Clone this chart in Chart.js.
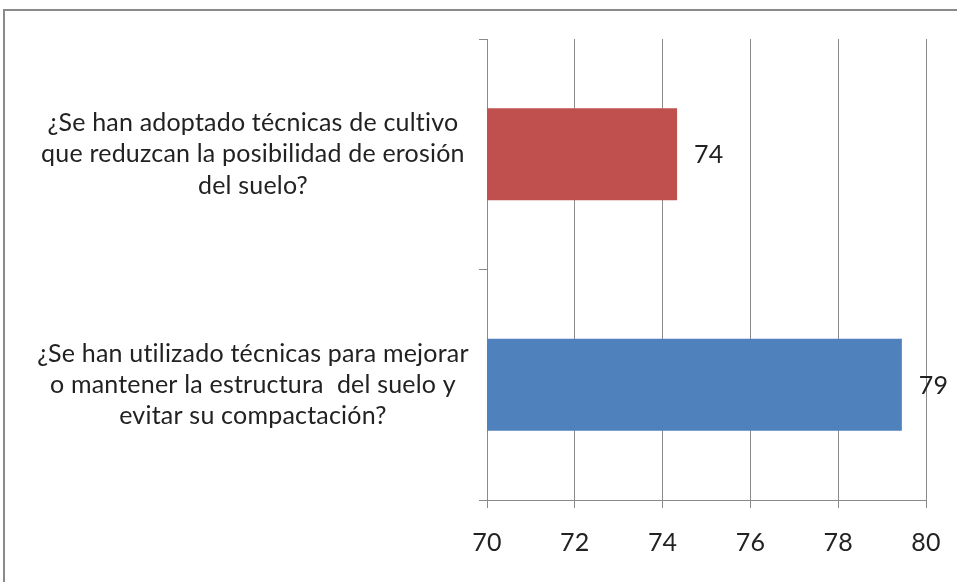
<!DOCTYPE html>
<html>
<head>
<meta charset="utf-8">
<script src="https://cdn.jsdelivr.net/npm/chart.js@4.4.0/dist/chart.umd.min.js"></script>
<style>
  html, body { margin: 0; padding: 0; background: #fff; overflow: hidden; }
  #wrap { position: relative; width: 957px; height: 582px; }
  #frame {
    position: absolute; left: 3px; top: 9px; width: 2000px; height: 2000px;
    border: 2px solid #8a8a8a; pointer-events: none;
  }
  canvas { position: absolute; left: 0; top: 0; }
</style>
</head>
<body>
<div id="wrap">
  <div id="frame"></div>
  <canvas id="chart" width="957" height="582"></canvas>
</div>
<script>
const categories = [
    ['¿Se han adoptado técnicas de cultivo', 'que reduzcan la posibilidad de erosión', 'del suelo?'],
    ['¿Se han utilizado técnicas para mejorar', 'o mantener la estructura  del suelo y', 'evitar su compactación?']
];
const values = [74.33, 79.45];
const barColors = ['#C0504D', '#4F81BD'];
const xTicks = [70, 72, 74, 76, 78, 80];

const gridGray = '#8a8a8a';
const textColor = '#222222';
const fontFamily = 'Lato, "Open Sans", sans-serif';

// sin ligaduras "ti" de Lato
const noLigatures = {
    id: 'noLigatures',
    beforeDraw(chart) {
        if ('letterSpacing' in chart.ctx) chart.ctx.letterSpacing = '0.2px';
    }
};

// etiquetas de valor a la derecha de cada barra
const valueLabels = {
    id: 'valueLabels',
    afterDatasetsDraw(chart) {
        const ctx = chart.ctx;
        const meta = chart.getDatasetMeta(0);
        ctx.save();
        ctx.font = `25px ${fontFamily}`;
        ctx.fillStyle = textColor;
        ctx.textAlign = 'left';
        ctx.textBaseline = 'middle';
        meta.data.forEach((bar, i) => {
            ctx.fillText(String(Math.round(values[i])), bar.x + 17, bar.y + 1);
        });
        ctx.restore();
    }
};

new Chart(document.getElementById('chart').getContext('2d'), {
    type: 'bar',
    data: {
        labels: categories,
        datasets: [{
            data: values,
            backgroundColor: barColors,
            borderWidth: 0,
            categoryPercentage: 1,
            barPercentage: 0.4
        }]
    },
    options: {
        indexAxis: 'y',
        responsive: false,
        animation: false,
        layout: { padding: { top: 39, right: 31, bottom: 24, left: 0 } },
        plugins: {
            legend: { display: false },
            tooltip: { enabled: false }
        },
        scales: {
            x: {
                min: 70,
                max: 80,
                afterBuildTicks: (scale) => {
                    scale.ticks = xTicks.map(v => ({ value: v }));
                },
                afterFit: (scale) => {
                    scale.height = 58;
                    scale.paddingLeft = 0;
                    scale.paddingRight = 0;
                },
                grid: { color: gridGray, lineWidth: 1, tickLength: 8 },
                border: { color: gridGray, width: 1 },
                ticks: {
                    color: textColor,
                    padding: 20,
                    font: { family: fontFamily, size: 25, lineHeight: 1.2 }
                }
            },
            y: {
                grid: { drawOnChartArea: false, color: gridGray, tickLength: 8, offset: true },
                border: { color: gridGray, width: 1 },
                afterFit: (scale) => {
                    scale.width = 487;
                    scale.paddingTop = 0;
                    scale.paddingBottom = 0;
                },
                ticks: {
                    color: textColor,
                    crossAlign: 'center',
                    padding: 14,
                    font: { family: fontFamily, size: 25, lineHeight: 1.25 }
                }
            }
        }
    },
    plugins: [noLigatures, valueLabels]
});
</script>
</body>
</html>
